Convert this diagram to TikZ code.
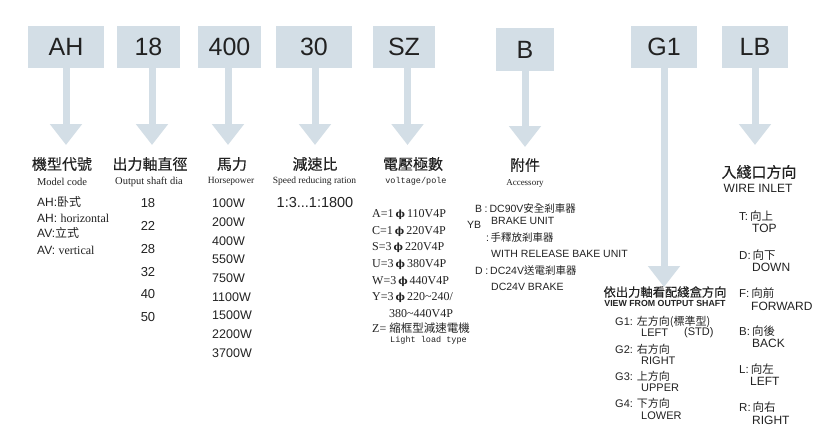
\documentclass[tikz,border=0pt]{standalone}
\usepackage{fontspec}
\setmainfont{Liberation Sans}
\newfontfamily\cjk{Noto Sans CJK TC}
\newfontfamily\cjkh[FakeBold=0.3]{Noto Sans CJK TC}
\newfontfamily\serif{Liberation Serif}
\newfontfamily\mono{Liberation Mono}
\newfontfamily\dvs{DejaVu Serif}
\usetikzlibrary{arrows.meta}
\definecolor{boxc}{HTML}{D3DEE6}
\definecolor{txt}{HTML}{222222}
\newcommand{\fsz}[1]{\fontsize{#1}{#1}\selectfont}
\newcommand{\ph}{\,{\dvs\bfseries\fontsize{10}{10}\selectfont ϕ}\,}
\begin{document}
\begin{tikzpicture}[x=1pt,y=-1pt,
 codebox/.style={fill=boxc, inner sep=0pt, text=txt, font=\fsz{25}, minimum height=42},
 pointer/.style={draw=boxc, line width=7pt, -{Triangle[width=31pt,length=21pt]}},
 heading/.style={text=txt, font=\cjkh\fsz{15}, inner sep=0pt},
 sub/.style={text=txt, font=\serif\fsz{10}, inner sep=0pt},
 lbl/.style={text=txt, inner sep=0pt, anchor=west},
 num/.style={text=txt, inner sep=0pt},
]
\useasboundingbox[fill=white] (0,0) rectangle (830,447);

% code boxes
\node[codebox, minimum width=76] (bAH) at (66,47) {AH};
\node[codebox, minimum width=63] (b18) at (148.5,47) {18};
\node[codebox, minimum width=63] (b400) at (229.5,47) {400};
\node[codebox, minimum width=76] (b30) at (314,47) {30};
\node[codebox, minimum width=62] (bSZ) at (404,47) {SZ};
\node[codebox, minimum width=58, minimum height=43] (bB) at (525,49.5) {B};
\node[codebox, minimum width=66] (bG1) at (664,47) {G1};
\node[codebox, minimum width=66] (bLB) at (755,47) {LB};

% arrow tips
\coordinate (tAH) at (66,145);
\coordinate (t18) at (152,145);
\coordinate (t400) at (228,145);
\coordinate (t30) at (315,145);
\coordinate (tSZ) at (407.5,145);
\coordinate (tB) at (525,147);
\coordinate (tG1) at (664,287);
\coordinate (tLB) at (755,145);

\draw[pointer] (bAH.south -| tAH) -- (tAH);
\draw[pointer] (b18.south -| t18) -- (t18);
\draw[pointer] (b400.south -| t400) -- (t400);
\draw[pointer] (b30.south -| t30) -- (t30);
\draw[pointer] (bSZ.south -| tSZ) -- (tSZ);
\draw[pointer] (bB.south -| tB) -- (tB);
\draw[pointer] (bG1.south -| tG1) -- (tG1);
\draw[pointer] (bLB.south -| tLB) -- (tLB);

% headings
\node[heading] (hAH) at (62,164) {機型代號};
\node[sub, font=\serif\fsz{10.5}] (sAH) at (62,182) {Model code};
\node[heading] (h18) at (150,164) {出力軸直徑};
\node[sub, font=\serif\fsz{10.5}] (s18) at (149,181.5) {Output shaft dia};
\node[heading] (h400) at (232,164) {馬力};
\node[sub, font=\serif\fsz{9.5}] (s400) at (231,181) {Horsepower};
\node[heading] (h30) at (315,164) {減速比};
\node[sub, font=\serif\fsz{9.5}] (s30) at (314.5,181) {Speed reducing ration};
\node[heading] (hSZ) at (413,164) {電壓極數};
\node[sub, font=\mono\fsz{8.5}] (sSZ) at (416,181.5) {voltage/pole};
\node[heading] (hB) at (525,165) {附件};
\node[sub, font=\serif\fsz{9}] (sB) at (525,183) {Accessory};
\node[heading, font=\cjkh\fsz{12.3}] (hG1) at (665,292) {依出力軸看配綫盒方向};
\node[num, font=\bfseries\fsz{8.8}] (sG1) at (665,303.5) {VIEW FROM OUTPUT SHAFT};
\node[heading] (hLB) at (759,172) {入綫口方向};
\node[num, font=\fsz{12}] (sLB) at (758,188) {WIRE INLET};

% column AH
\node[lbl, font=\fsz{12}] (ah1) at (37,202) {AH:{\cjk 卧式}};
\node[lbl, font=\fsz{12}] (ah2) at (37,218) {AH: {\serif horizontal}};
\node[lbl, font=\fsz{12}] (av1) at (37,233) {AV:{\cjk 立式}};
\node[lbl, font=\fsz{12}] (av2) at (37,250) {AV: {\serif vertical}};

% column 18
\foreach \v/\yy in {18/203,22/226,28/249,32/272,40/294,50/317}
  \node[num, font=\fsz{13}] (d\v) at (148,\yy) {\v};

% column 400
\foreach \v/\yy in {100W/203,200W/222,400W/241,550W/259,750W/278,1100W/297,1500W/315,2200W/334,3700W/353}
  \node[lbl, font=\fsz{12.5}] (w\v) at (212,\yy) {\v};

% column 30
\node[num, font=\fsz{14.5}] (ratio) at (315,203) {1:3...1:1800};

% column SZ
\node[lbl, font=\serif\fsz{12}] (vA) at (372,215) {A=1\ph110V4P};
\node[lbl, font=\serif\fsz{12}] (vC) at (372,232) {C=1\ph220V4P};
\node[lbl, font=\serif\fsz{12}] (vS) at (372,248) {S=3\ph220V4P};
\node[lbl, font=\serif\fsz{12}] (vU) at (372,265) {U=3\ph380V4P};
\node[lbl, font=\serif\fsz{12}] (vW) at (372,282) {W=3\ph440V4P};
\node[lbl, font=\serif\fsz{12}] (vY) at (372,298) {Y=3\ph220\textasciitilde240/};
\node[lbl, font=\serif\fsz{12}] (vY2) at (389,314) {380\textasciitilde440V4P};
\node[lbl, font=\serif\fsz{12}] (vZ) at (372,328) {Z= {\cjk\fsz{11.5}縮框型減速電機}};
\node[lbl, font=\mono\fsz{8.5}] (vL) at (390,340) {Light load type};

% column B
\node[lbl, font=\fsz{10.5}] (aB) at (475,208) {B\hspace{2.5pt}:\hspace{2pt}DC90V{\cjk 安全剎車器}};
\node[lbl, font=\fsz{10.5}] (aYB) at (467,225) {YB};
\node[lbl, font=\fsz{10.5}] (aYB1) at (491,221) {BRAKE UNIT};
\node[lbl, font=\fsz{10.5}] (aYB2) at (486,238) {:\hspace{1.5pt}{\cjk 手釋放剎車器}};
\node[lbl, font=\fsz{10.5}] (aYB3) at (491,254) {WITH RELEASE BAKE UNIT};
\node[lbl, font=\fsz{10.5}] (aD) at (475,271) {D\hspace{2.5pt}:\hspace{2pt}DC24V{\cjk 送電剎車器}};
\node[lbl, font=\fsz{10.5}] (aD1) at (491,287) {DC24V BRAKE};

% column G1
\node[lbl, font=\fsz{11}] (g1) at (615,322) {G1:\hspace{4pt}{\cjk 左方向(標準型)}};
\node[lbl, font=\fsz{11}] (g1e) at (641,333) {LEFT};
\node[lbl, font=\fsz{11}] (g1s) at (684,333) {(STD)};
\node[lbl, font=\fsz{11}] (g2) at (615,349) {G2:\hspace{4pt}{\cjk 右方向}};
\node[lbl, font=\fsz{11}] (g2e) at (641,361) {RIGHT};
\node[lbl, font=\fsz{11}] (g3) at (615,376) {G3:\hspace{4pt}{\cjk 上方向}};
\node[lbl, font=\fsz{11}] (g3e) at (641,388) {UPPER};
\node[lbl, font=\fsz{11}] (g4) at (615,403) {G4:\hspace{4pt}{\cjk 下方向}};
\node[lbl, font=\fsz{11}] (g4e) at (641,416) {LOWER};

% column LB
\node[lbl, font=\fsz{11.5}] (lT) at (739,216) {T:\hspace{2pt}{\cjk 向上}};
\node[lbl, font=\fsz{12}] (lTe) at (752,228) {TOP};
\node[lbl, font=\fsz{11.5}] (lD) at (739,255) {D:\hspace{2pt}{\cjk 向下}};
\node[lbl, font=\fsz{12}] (lDe) at (752,267) {DOWN};
\node[lbl, font=\fsz{11.5}] (lF) at (739,293) {F:\hspace{2pt}{\cjk 向前}};
\node[lbl, font=\fsz{12}] (lFe) at (751,306) {FORWARD};
\node[lbl, font=\fsz{11.5}] (lB) at (739,331) {B:\hspace{2pt}{\cjk 向後}};
\node[lbl, font=\fsz{12}] (lBe) at (752,343) {BACK};
\node[lbl, font=\fsz{11.5}] (lL) at (739,369) {L:\hspace{2pt}{\cjk 向左}};
\node[lbl, font=\fsz{12}] (lLe) at (750,381) {LEFT};
\node[lbl, font=\fsz{11.5}] (lR) at (739,407) {R:\hspace{2pt}{\cjk 向右}};
\node[lbl, font=\fsz{12}] (lRe) at (752,420) {RIGHT};
\end{tikzpicture}
\end{document}
